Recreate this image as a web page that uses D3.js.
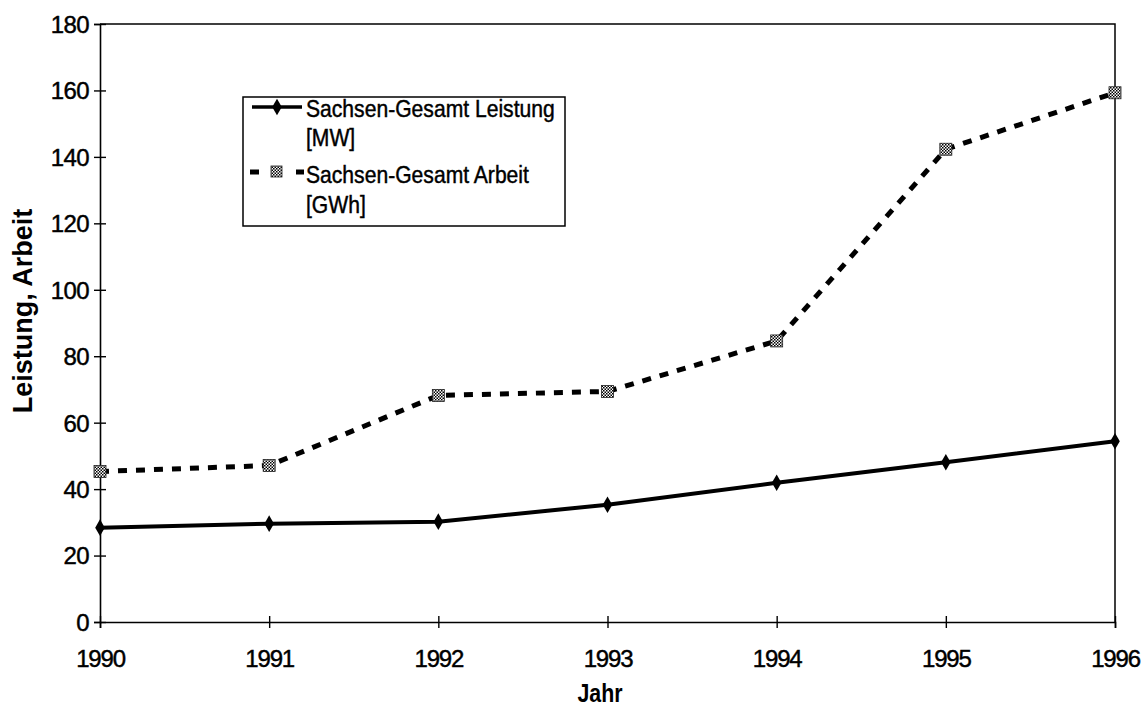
<!DOCTYPE html>
<html>
<head>
<meta charset="utf-8">
<script src="https://cdn.jsdelivr.net/npm/d3@7"></script>
<style>
  html, body { margin: 0; padding: 0; background: #fff; }
  svg { display: block; }
  text { font-family: "Liberation Sans", Arial, sans-serif; fill: #000; }
  .heavy { stroke: #000; stroke-width: 0.45px; }
</style>
</head>
<body>
<svg id="chart" width="1144" height="711"></svg>
<script>
// Jahre und Messwerte Sachsen-Gesamt
const years = [1990, 1991, 1992, 1993, 1994, 1995, 1996];
const leistung = [28.4, 29.6, 30.2, 35.3, 41.9, 48.1, 54.4];   // MW
const arbeit   = [45.3, 47.1, 68.2, 69.4, 84.6, 142.3, 159.3]; // GWh
const yTicks = [0, 20, 40, 60, 80, 100, 120, 140, 160, 180];
const seriesNames = ["Sachsen-Gesamt Leistung", "Sachsen-Gesamt Arbeit"];
const seriesUnits = ["[MW]", "[GWh]"];

const svg = d3.select("#chart");
const plotLeft = 100, plotRight = 1115, plotTop = 24, plotBottom = 622;
const squeeze = 0.88; // schmale Schrift

const x = d3.scaleLinear().domain([1990, 1996]).range([plotLeft, plotRight]);
const y = d3.scaleLinear().domain([0, 180]).range([plotBottom, plotTop]);

// Schraffurmuster für die Arbeit-Markierung
const defs = svg.append("defs");
const pat = defs.append("pattern")
  .attr("id", "hatch").attr("patternUnits", "userSpaceOnUse")
  .attr("width", 3).attr("height", 3);
pat.append("rect").attr("width", 3).attr("height", 3).attr("fill", "#fff");
pat.append("rect").attr("width", 1.5).attr("height", 1.5).attr("fill", "#000");
pat.append("rect").attr("x", 1.5).attr("y", 1.5).attr("width", 1.5).attr("height", 1.5).attr("fill", "#000");

// Rahmen oben und rechts
svg.append("path")
  .attr("d", `M${plotLeft},${plotTop}H${plotRight}V${plotBottom}`)
  .attr("fill", "none").attr("stroke", "#000").attr("stroke-width", 1.5);

// Y-Achse
const yAxis = svg.append("g")
  .attr("transform", `translate(${plotLeft},0)`)
  .call(d3.axisLeft(y).tickValues(yTicks).tickSize(6).tickPadding(5).tickFormat(d3.format("d")));
yAxis.select(".domain").attr("stroke-width", 1.6);
yAxis.selectAll(".tick line").attr("x1", 6).attr("stroke-width", 1.4);
yAxis.selectAll(".tick text")
  .attr("class", "heavy")
  .attr("font-size", 24).attr("letter-spacing", -0.6)
  .attr("font-family", "Liberation Sans, Arial, sans-serif")
  .attr("dy", "0.35em");

// X-Achse
const xAxis = svg.append("g")
  .attr("transform", `translate(0,${plotBottom})`)
  .call(d3.axisBottom(x).tickValues(years).tickSize(6).tickFormat(d3.format("d")));
xAxis.select(".domain").attr("stroke-width", 1.6);
xAxis.selectAll(".tick line").attr("y1", -6).attr("stroke-width", 1.4);
xAxis.selectAll(".tick text")
  .attr("class", "heavy")
  .attr("font-size", 24).attr("letter-spacing", -1.2)
  .attr("font-family", "Liberation Sans, Arial, sans-serif")
  .attr("y", 45).attr("dy", 0);

// Achsentitel
svg.append("text")
  .attr("transform", `translate(600,702) scale(${squeeze * 0.97},1)`)
  .attr("text-anchor", "middle").attr("font-size", 25).attr("font-weight", "bold")
  .text("Jahr");
svg.append("text")
  .attr("transform", "translate(32,311) rotate(-90)")
  .attr("text-anchor", "middle").attr("font-size", 27).attr("font-weight", "bold")
  .text("Leistung, Arbeit");

const line = d3.line().x((d, i) => x(years[i])).y(d => y(d));

// Linie Arbeit (gestrichelt)
svg.append("path")
  .datum(arbeit)
  .attr("d", line)
  .attr("fill", "none").attr("stroke", "#000")
  .attr("stroke-width", 5).attr("stroke-dasharray", "9,9");

// Linie Leistung (durchgezogen)
svg.append("path")
  .datum(leistung)
  .attr("d", line)
  .attr("fill", "none").attr("stroke", "#000").attr("stroke-width", 4);

// Markierungen
const diamond = d3.symbol().type(d3.symbolDiamond).size(80);
svg.selectAll(".mL").data(leistung).enter().append("path")
  .attr("transform", (d, i) => `translate(${x(years[i])},${y(d)})`)
  .attr("d", diamond).attr("fill", "#000");

svg.selectAll(".mA").data(arbeit).enter().append("rect")
  .attr("x", (d, i) => x(years[i]) - 6).attr("y", d => y(d) - 6)
  .attr("width", 12).attr("height", 12)
  .attr("fill", "url(#hatch)").attr("stroke", "#222").attr("stroke-width", 0.8);

// Legende
const lg = svg.append("g");
lg.append("rect")
  .attr("x", 243).attr("y", 97).attr("width", 322).attr("height", 129)
  .attr("fill", "#fff").attr("stroke", "#000").attr("stroke-width", 1.5);

function legendText(tx, ty, str) {
  lg.append("text")
    .attr("class", "heavy")
    .attr("transform", `translate(${tx},${ty}) scale(${squeeze},1)`)
    .attr("font-size", 24)
    .text(str);
}

// Eintrag Leistung
lg.append("line").attr("x1", 252).attr("x2", 302).attr("y1", 107).attr("y2", 107)
  .attr("stroke", "#000").attr("stroke-width", 3.5);
lg.append("path").attr("transform", "translate(277,107)").attr("d", diamond).attr("fill", "#000");
legendText(306, 117, seriesNames[0]);
legendText(306, 146, seriesUnits[0]);

// Eintrag Arbeit
lg.append("line").attr("x1", 250).attr("x2", 304).attr("y1", 172).attr("y2", 172)
  .attr("stroke", "#000").attr("stroke-width", 5).attr("stroke-dasharray", "9,14");
lg.append("rect").attr("x", 271).attr("y", 166).attr("width", 11).attr("height", 11)
  .attr("fill", "url(#hatch)").attr("stroke", "#222").attr("stroke-width", 0.8);
legendText(306, 183, seriesNames[1]);
legendText(306, 213, seriesUnits[1]);
</script>
</body>
</html>
